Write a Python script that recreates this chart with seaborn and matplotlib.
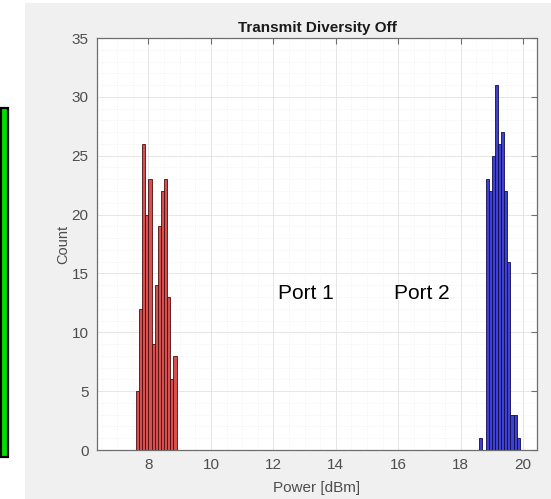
import numpy as np
import pandas as pd
import seaborn as sns
import matplotlib.pyplot as plt
from matplotlib.patches import Rectangle
from matplotlib.ticker import MultipleLocator

# ---- data ----
port1_bin_start = [7.6, 7.7, 7.8, 7.9, 8.0, 8.1, 8.2, 8.3, 8.4, 8.5, 8.6, 8.7, 8.8]
port1_counts = [5, 12, 26, 20, 23, 9, 14, 19, 22, 23, 13, 6, 8]
port2_bin_start = [18.6, 18.7, 18.8, 18.9, 19.0, 19.1, 19.2, 19.3, 19.4, 19.5, 19.6, 19.7, 19.8]
port2_counts = [1, 0, 23, 22, 25, 31, 26, 27, 22, 16, 3, 3, 1]
bin_width = 0.1
x_ticks = [8, 10, 12, 14, 16, 18, 20]
y_ticks = [0, 5, 10, 15, 20, 25, 30, 35]
title = "Transmit Diversity Off"
x_label = "Power [dBm]"
y_label = "Count"
annotations = [("Port 1", 13.05, 13.3), ("Port 2", 16.75, 13.3)]

sns.set_style("white")
plt.rcParams['font.family'] = ['Liberation Sans', 'DejaVu Sans']

W, H = 551, 499
fig = plt.figure(figsize=(W / 100, H / 100), dpi=100)
fig.patch.set_facecolor('white')
fig.patches.append(Rectangle((25 / W, 0), (W - 25) / W, (H - 3) / H,
                             transform=fig.transFigure, facecolor='#f0f0f0',
                             edgecolor='none', zorder=-2))
fig.patches.append(Rectangle((0.5 / W, (H - 457) / H), 7.5 / W, 349 / H,
                             transform=fig.transFigure, facecolor='#00e000',
                             edgecolor='black', linewidth=1.6, zorder=-1))

ax = fig.add_axes([97 / W, (H - 450) / H, 440 / W, 412 / H])
ax.set_zorder(2)
ax.set_facecolor('white')

def hist(starts, counts, face, edge):
    centers = [s + bin_width / 2 for s in starts]
    edges = list(starts) + [starts[-1] + bin_width]
    df = pd.DataFrame({"x": centers, "w": counts})
    sns.histplot(data=df, x="x", weights="w", bins=edges, ax=ax,
                 color=face, edgecolor=edge, linewidth=0.6, alpha=1.0,
                 zorder=3)

hist(port1_bin_start, port1_counts, '#d65050', '#4a0e0e')
hist(port2_bin_start, port2_counts, '#4040d2', '#0e0e4a')

ax.set_xlim(6.35, 20.45)
ax.set_ylim(0, 35)
ax.set_xticks(x_ticks)
ax.set_yticks(y_ticks)
ax.xaxis.set_minor_locator(MultipleLocator(0.5))
ax.yaxis.set_minor_locator(MultipleLocator(1))
ax.grid(True, which='major', color='#e2e2e2', linewidth=0.6, zorder=0)
ax.grid(True, which='minor', color='#ededed', linewidth=0.5, linestyle=':', zorder=0)
ax.set_axisbelow(True)

for sp in ax.spines.values():
    sp.set_color('#6e6e6e')
    sp.set_linewidth(0.9)
    sp.set_visible(True)
ax.tick_params(which='major', direction='in', length=4, width=0.8, color='#6e6e6e',
               top=True, right=True, labelsize=11, labelcolor='#4d4d4d', pad=6)
ax.tick_params(which='minor', length=0)

ax.set_xlabel(x_label, fontsize=11, color='#4d4d4d', labelpad=6)
ax.set_ylabel(y_label, fontsize=10.5, color='#4d4d4d', labelpad=1)
ax.set_title(title, fontsize=11, fontweight='bold', color='#1a1a1a', pad=4)

for txt, x, y in annotations:
    ax.text(x, y, txt, fontsize=15, color='black', ha='center', va='center', zorder=5)

fig.savefig('out.png', dpi=100, facecolor=fig.get_facecolor())
